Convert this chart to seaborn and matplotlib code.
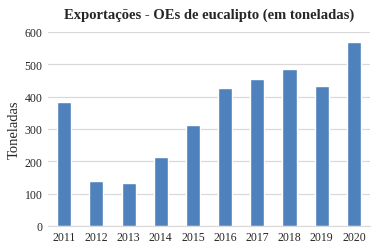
import matplotlib
matplotlib.use("Agg")
import matplotlib.pyplot as plt
import pandas as pd
import seaborn as sns

years = ["2011", "2012", "2013", "2014", "2015", "2016", "2017", "2018", "2019", "2020"]
toneladas = [382, 139, 132, 214, 312, 428, 454, 484, 432, 569]
y_ticks = [0, 100, 200, 300, 400, 500, 600]

df = pd.DataFrame({"ano": years, "toneladas": toneladas})

sns.set_style("white")
plt.rcParams["font.family"] = ["Liberation Serif", "DejaVu Serif"]

fig = plt.figure(figsize=(3.76, 2.51), dpi=100)
ax = fig.add_axes([0.128, 0.096, 0.856, 0.773])
sns.barplot(data=df, x="ano", y="toneladas", color="#4F81BD", saturation=1,
            width=0.44, ax=ax, zorder=3)

ax.set_ylim(0, 600)
ax.set_yticks(y_ticks)
ax.yaxis.grid(True, color="#d9d9d9", linewidth=0.9, zorder=0)
for side in ["top", "right", "left"]:
    ax.spines[side].set_visible(False)
ax.spines["bottom"].set_color("#d9d9d9")
ax.spines["bottom"].set_zorder(4)
ax.tick_params(axis="both", length=0, labelsize=8.5, colors="#262626", pad=4)
ax.set_xlabel("")
ax.set_ylabel("Toneladas", fontsize=10.5, color="#262626", labelpad=3)
ax.set_title("Exportações - OEs de eucalipto (em toneladas)", fontsize=10.5,
             fontweight="bold", color="#262626", pad=10)

fig.savefig("out.png", dpi=100)
